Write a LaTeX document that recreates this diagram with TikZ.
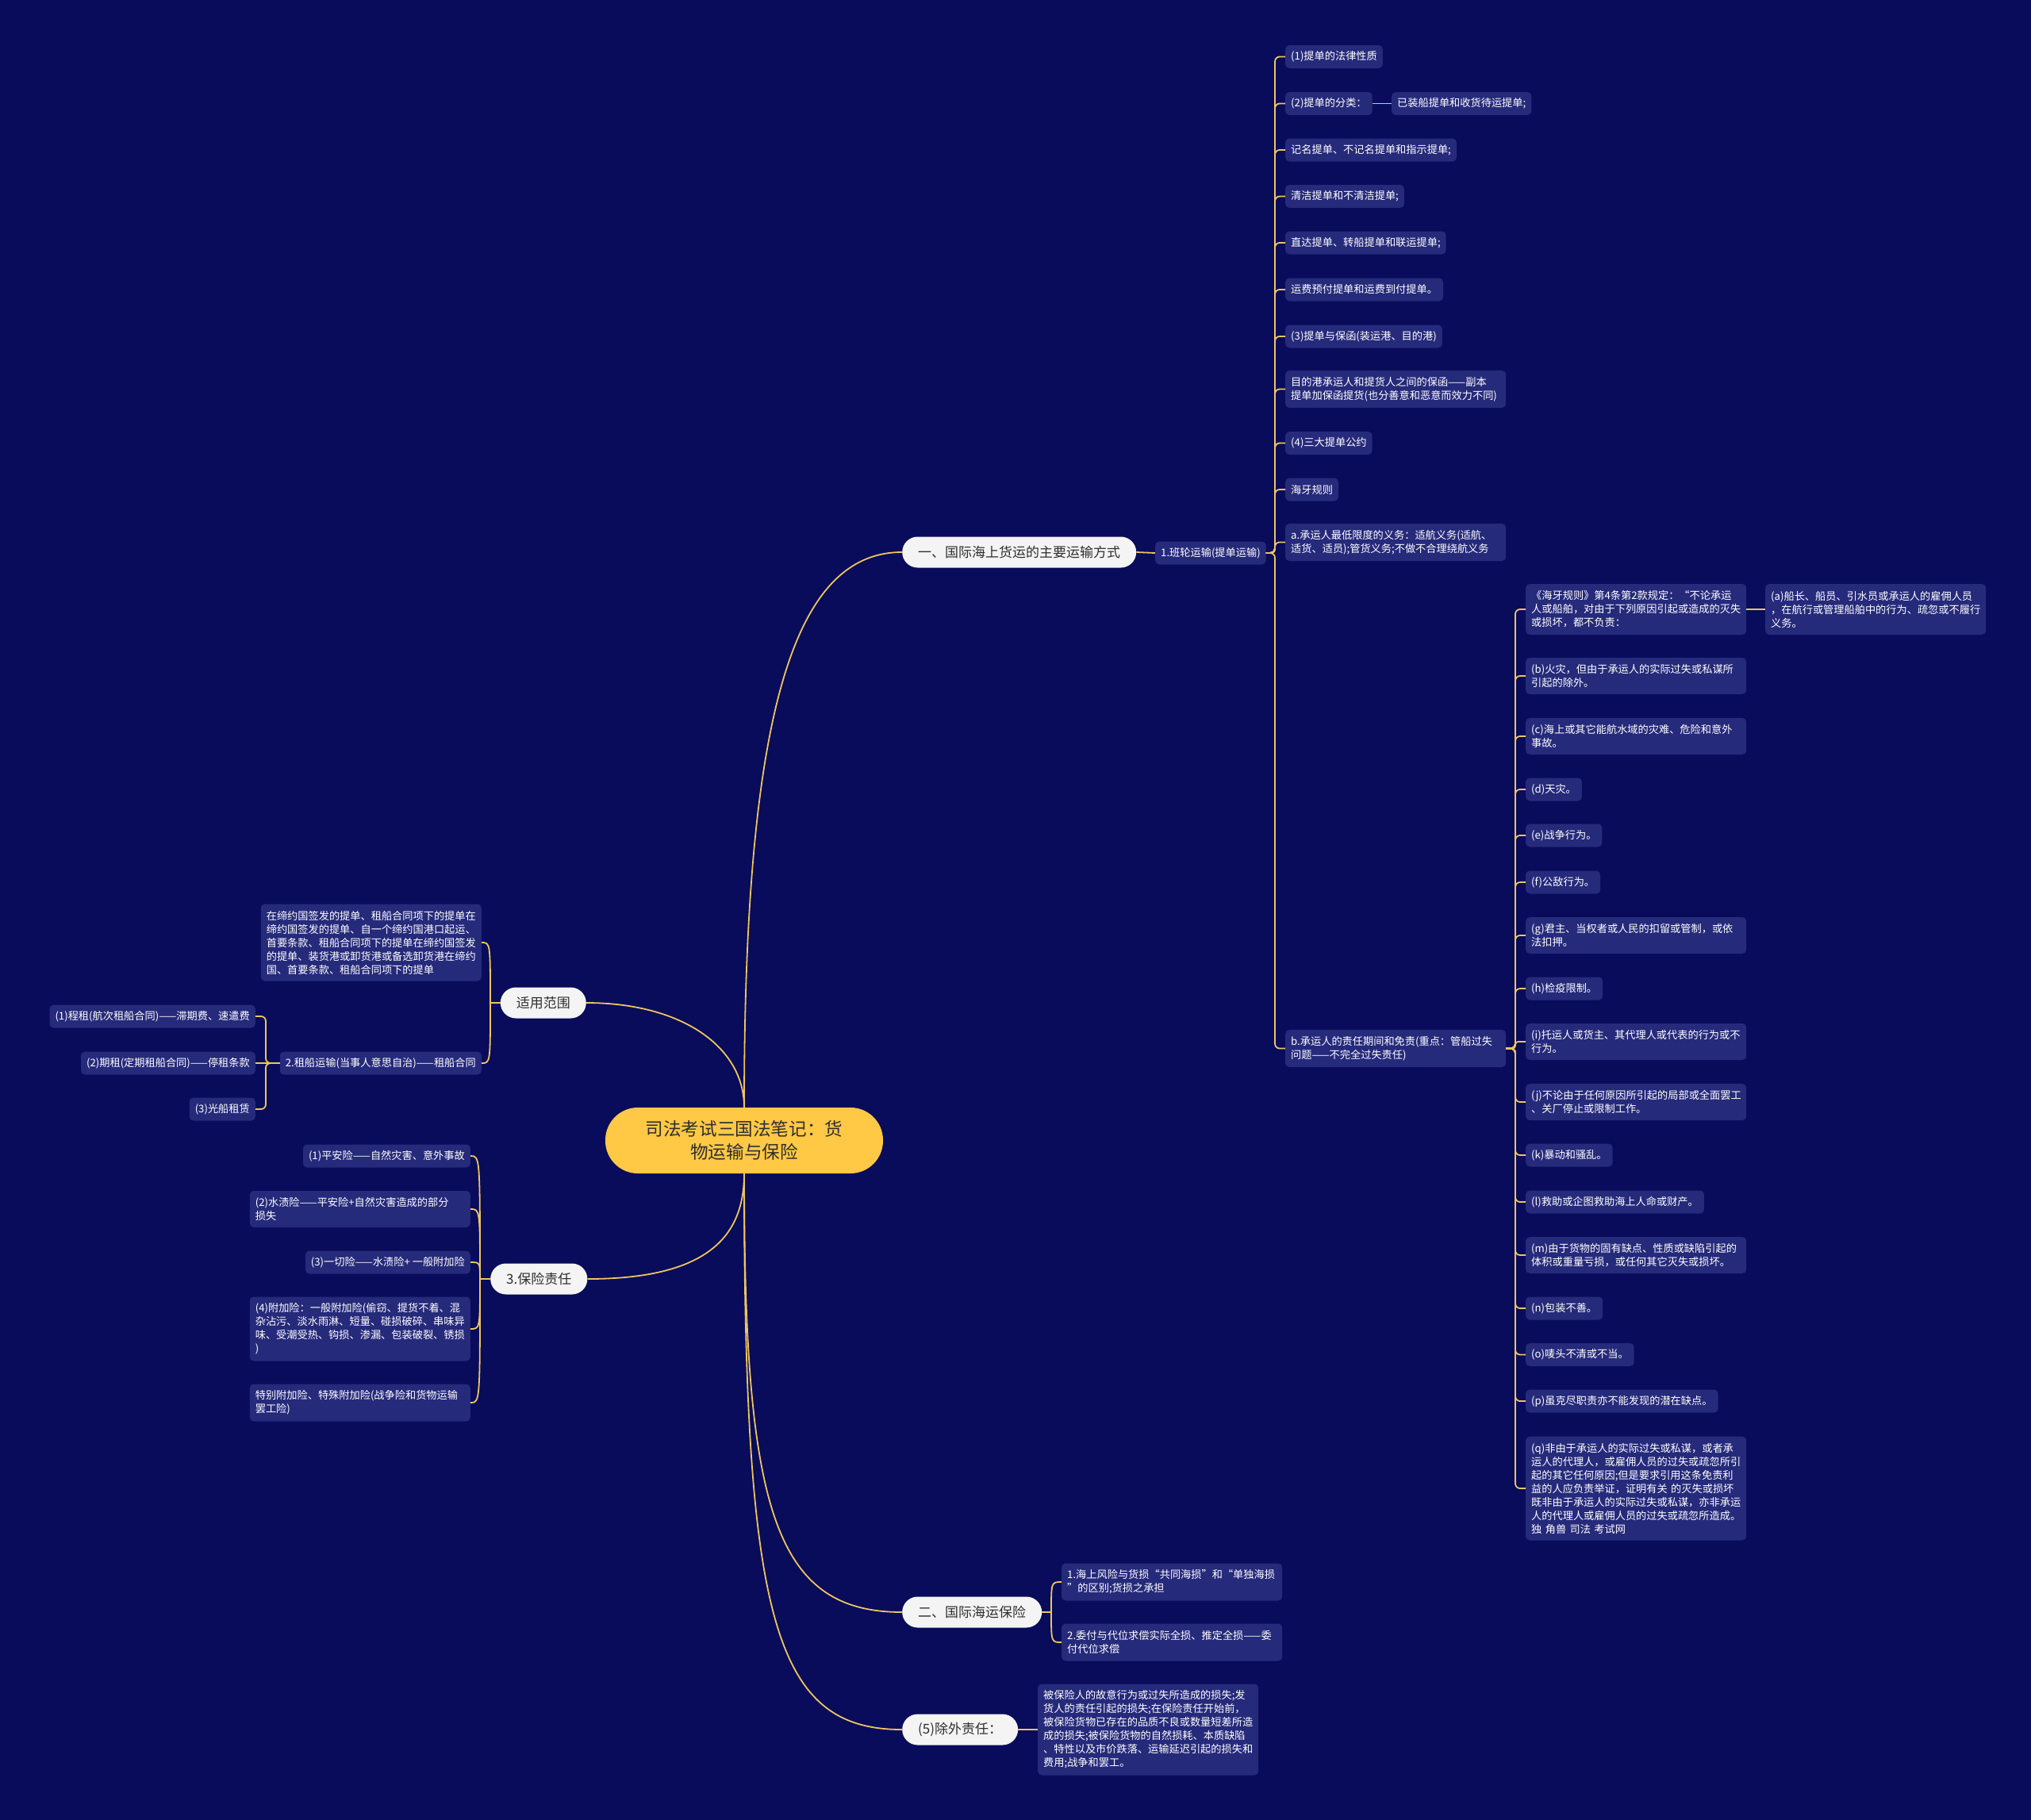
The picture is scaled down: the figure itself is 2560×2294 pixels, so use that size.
\documentclass[tikz,border=0pt]{standalone}
\usepackage{fontspec}
\setmainfont{Noto Sans CJK SC}
\usetikzlibrary{calc}
\definecolor{bgc}{HTML}{080C5A}
\definecolor{leafc}{HTML}{262A7B}
\definecolor{lvc}{HTML}{F4F4F4}
\definecolor{rootc}{HTML}{FFC845}
\definecolor{txtd}{HTML}{2E2E2E}
\definecolor{lc}{HTML}{EFC55F}
\tikzset{
  leaf/.style={fill=leafc, text=white, rounded corners=5pt, inner xsep=7pt, inner ysep=0pt,
    minimum height=29pt, font=\fontsize{13.2}{17}\selectfont, align=left},
  wleaf/.style={leaf, text width=264pt},
  lvl/.style={fill=lvc, text=txtd, rounded corners=19.5pt, inner xsep=20pt, inner ysep=0pt,
    minimum height=39pt, font=\fontsize{17}{21}\selectfont},
  rootnode/.style={fill=rootc, text=txtd, rounded corners=41pt, text width=252pt, align=center,
    inner xsep=49pt, inner ysep=0pt, minimum height=83pt, font=\fontsize{22.6}{29}\selectfont},
  conn/.style={draw=lc, line width=1.8pt, rounded corners=6pt},
  curv/.style={draw=lc, line width=1.8pt}
}
\begin{document}
\begin{tikzpicture}[x=1pt,y=-1pt]
\fill[bgc] (0,0) rectangle (2560,2294);
\useasboundingbox (0,0) rectangle (2560,2294);

% root
\node[rootnode] (root) at (938,1437.5) {司法考试三国法笔记：货\\物运输与保险};

% level 1
\node[lvl, anchor=west] (L1) at (1137,696) {一、国际海上货运的主要运输方式};
\node[lvl, anchor=east] (sy) at (739,1264) {适用范围};
\node[lvl, anchor=west] (bx) at (618,1612) {3.保险责任};
\node[lvl, anchor=west] (L2) at (1137,2032) {二、国际海运保险};
\node[lvl, anchor=west] (L5) at (1137,2180) {(5)除外责任：};

% level 2 right
\node[leaf, anchor=west] (ban) at (1456,697) {1.班轮运输(提单运输)};

% column A
\node[leaf, anchor=west] (n1) at (1620,71.5) {(1)提单的法律性质};
\node[leaf, anchor=west] (n2) at (1620,130.5) {(2)提单的分类：};
\node[leaf, anchor=west] (n2a) at (1754,130.5) {已装船提单和收货待运提单;};
\node[leaf, anchor=west] (n3) at (1620,189) {记名提单、不记名提单和指示提单;};
\node[leaf, anchor=west] (n4) at (1620,247.5) {清洁提单和不清洁提单;};
\node[leaf, anchor=west] (n5) at (1620,306) {直达提单、转船提单和联运提单;};
\node[leaf, anchor=west] (n6) at (1620,365) {运费预付提单和运费到付提单。};
\node[leaf, anchor=west] (n7) at (1620,424) {(3)提单与保函(装运港、目的港)};
\node[wleaf, anchor=west, minimum height=47pt] (n8) at (1620,490.5) {目的港承运人和提货人之间的保函——副本\\提单加保函提货(也分善意和恶意而效力不同)};
\node[leaf, anchor=west] (n9) at (1620,558.5) {(4)三大提单公约};
\node[leaf, anchor=west] (n10) at (1620,617) {海牙规则};
\node[wleaf, anchor=west, minimum height=47pt] (n11) at (1620,683.5) {a.承运人最低限度的义务：适航义务(适航、\\适货、适员);管货义务;不做不合理绕航义务};
\node[wleaf, anchor=west, minimum height=47pt] (nb) at (1620,1321.5) {b.承运人的责任期间和免责(重点：管船过失\\问题——不完全过失责任)};

% column B
\node[wleaf, anchor=west, minimum height=64pt] (ma) at (1923,768) {《海牙规则》第4条第2款规定：“不论承运\\人或船舶，对由于下列原因引起或造成的灭失\\或损坏，都不负责：};
\node[wleaf, anchor=west, minimum height=64pt] (maa) at (2225,768) {(a)船长、船员、引水员或承运人的雇佣人员\\，在航行或管理船舶中的行为、疏忽或不履行\\义务。};
\node[wleaf, anchor=west, minimum height=46pt] (mb) at (1923,852) {(b)火灾，但由于承运人的实际过失或私谋所\\引起的除外。};
\node[wleaf, anchor=west, minimum height=46pt] (mc) at (1923,928) {(c)海上或其它能航水域的灾难、危险和意外\\事故。};
\node[leaf, anchor=west] (md) at (1923,995) {(d)天灾。};
\node[leaf, anchor=west] (me) at (1923,1053) {(e)战争行为。};
\node[leaf, anchor=west] (mf) at (1923,1112) {(f)公敌行为。};
\node[wleaf, anchor=west, minimum height=46pt] (mg) at (1923,1179) {(g)君主、当权者或人民的扣留或管制，或依\\法扣押。};
\node[leaf, anchor=west] (mh) at (1923,1246) {(h)检疫限制。};
\node[wleaf, anchor=west, minimum height=46pt] (mi) at (1923,1313) {(i)托运人或货主、其代理人或代表的行为或不\\行为。};
\node[wleaf, anchor=west, minimum height=46pt] (mj) at (1923,1389) {(j)不论由于任何原因所引起的局部或全面罢工\\、关厂停止或限制工作。};
\node[leaf, anchor=west] (mk) at (1923,1456) {(k)暴动和骚乱。};
\node[leaf, anchor=west] (ml) at (1923,1515) {(l)救助或企图救助海上人命或财产。};
\node[wleaf, anchor=west, minimum height=46pt] (mm) at (1923,1582) {(m)由于货物的固有缺点、性质或缺陷引起的\\体积或重量亏损，或任何其它灭失或损坏。};
\node[leaf, anchor=west] (mn) at (1923,1649) {(n)包装不善。};
\node[leaf, anchor=west] (mo) at (1923,1707.5) {(o)唛头不清或不当。};
\node[leaf, anchor=west] (mp) at (1923,1766) {(p)虽克尽职责亦不能发现的潜在缺点。};
\node[wleaf, anchor=west, minimum height=131pt] (mq) at (1923,1876) {(q)非由于承运人的实际过失或私谋，或者承\\运人的代理人，或雇佣人员的过失或疏忽所引\\起的其它任何原因;但是要求引用这条免责利\\益的人应负责举证，证明有关 的灭失或损坏\\既非由于承运人的实际过失或私谋，亦非承运\\人的代理人或雇佣人员的过失或疏忽所造成。\\独 角兽 司法 考试网};

% left: scope
\node[wleaf, anchor=east, minimum height=97pt] (zai) at (607,1188) {在缔约国签发的提单、租船合同项下的提单在\\缔约国签发的提单、自一个缔约国港口起运、\\首要条款、租船合同项下的提单在缔约国签发\\的提单、装货港或卸货港或备选卸货港在缔约\\国、首要条款、租船合同项下的提单};
\node[leaf, anchor=east] (zc) at (607,1340) {2.租船运输(当事人意思自治)——租船合同};
\node[leaf, anchor=east] (zc1) at (322,1281) {(1)程租(航次租船合同)——滞期费、速遣费};
\node[leaf, anchor=east] (zc2) at (322,1340) {(2)期租(定期租船合同)——停租条款};
\node[leaf, anchor=east] (zc3) at (322,1398) {(3)光船租赁};

% left: insurance
\node[leaf, anchor=east] (b1) at (593,1457) {(1)平安险——自然灾害、意外事故};
\node[wleaf, anchor=east, minimum height=46pt] (b2) at (593,1524) {(2)水渍险——平安险+自然灾害造成的部分\\损失};
\node[leaf, anchor=east] (b3) at (593,1591) {(3)一切险——水渍险+ 一般附加险};
\node[wleaf, anchor=east, minimum height=81pt] (b4) at (593,1675) {(4)附加险：一般附加险(偷窃、提货不着、混\\杂沾污、淡水雨淋、短量、碰损破碎、串味异\\味、受潮受热、钩损、渗漏、包装破裂、锈损\\)};
\node[wleaf, anchor=east, minimum height=47pt] (b5) at (593,1768) {特别附加险、特殊附加险(战争险和货物运输\\罢工险)};

% bottom
\node[wleaf, anchor=west, minimum height=47pt] (e1) at (1338,1994) {1.海上风险与货损“共同海损”和“单独海损\\”的区别;货损之承担};
\node[wleaf, anchor=west, minimum height=47pt] (e2) at (1338,2070) {2.委付与代位求偿实际全损、推定全损——委\\付代位求偿};
\node[wleaf, anchor=west, minimum height=115pt] (ex) at (1308,2180) {被保险人的故意行为或过失所造成的损失;发\\货人的责任引起的损失;在保险责任开始前，\\被保险货物已存在的品质不良或数量短差所造\\成的损失;被保险货物的自然损耗、本质缺陷\\、特性以及市价跌落、运输延迟引起的损失和\\费用;战争和罢工。};

% spine coordinates
\coordinate (sA) at (1607,697);
\coordinate (sB) at (1910,1321.5);
\coordinate (sZ) at (618,1264);
\coordinate (sZC) at (335,1340);
\coordinate (sBX) at (605,1612);
\coordinate (sE) at (1325,2032);

% root curves
\draw[curv] (root.north) .. controls (938,900) and (1000,696) .. (L1.west);
\draw[curv] (root.north) .. controls (938,1320) and (860,1264) .. (sy.east);
\draw[curv] (root.south) .. controls (938,1560) and (890,1612) .. (bx.east);
\draw[curv] (root.south) .. controls (938,1900) and (975,2032) .. (L2.west);
\draw[curv] (root.south) .. controls (938,2040) and (975,2180) .. (L5.west);

% 一
\draw[conn] (L1.east) -- (ban.west);
\foreach \c in {n1,n2,n3,n4,n5,n6,n7,n8,n9,n10,nb}
  \draw[conn] (ban.east) -- (sA) |- (\c.west);
\draw[conn, rounded corners=5pt] (ban.east) -- (sA) |- (n11.west);
\draw[conn] (n2.east) -- (n2a.west);

% b.
\foreach \c in {ma,mb,mc,md,me,mf,mg,mh,mj,mk,ml,mm,mn,mo,mp,mq}
  \draw[conn] (nb.east) -- (sB) |- (\c.west);
\draw[conn, rounded corners=3.5pt] (nb.east) -- (sB) |- (mi.west);
\draw[conn] (ma.east) -- (maa.west);

% 适用范围
\draw[curv] (sy.west) -- (sZ);
\draw[curv] (sZ) .. controls (sZ |- zai.east) .. (zai.east);
\draw[curv] (sZ) .. controls (sZ |- zc.east) .. (zc.east);
\draw[conn] (zc.west) -- (sZC) |- (zc1.east);
\draw[conn] (zc.west) -- (zc2.east);
\draw[conn] (zc.west) -- (sZC) |- (zc3.east);

% 3.保险责任
\draw[curv] (bx.west) -- (sBX);
\foreach \c in {b1,b2,b3,b4,b5}
  \draw[curv] (sBX) .. controls (sBX |- \c.east) .. (\c.east);

% 二
\draw[curv] (L2.east) -- (sE);
\foreach \c in {e1,e2}
  \draw[curv] (sE) .. controls (sE |- \c.west) .. (\c.west);

% (5)
\draw[conn] (L5.east) -- (ex.west);
\end{tikzpicture}
\end{document}
